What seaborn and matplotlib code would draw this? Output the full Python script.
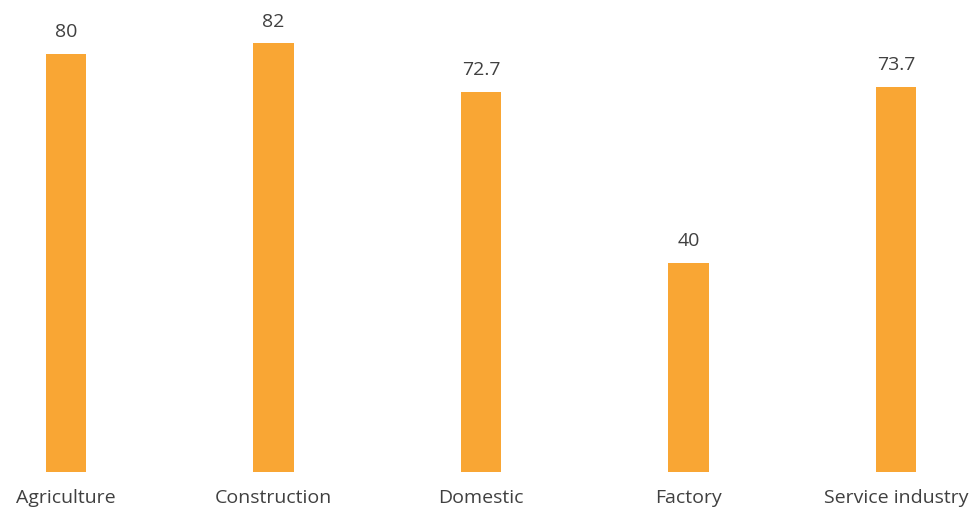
import matplotlib
matplotlib.use("Agg")
import matplotlib.pyplot as plt
import seaborn as sns
import pandas as pd

# Data
categories = ["Agriculture", "Construction", "Domestic", "Factory", "Service industry"]
values = [80, 82, 72.7, 40, 73.7]
value_labels = ["80", "82", "72.7", "40", "73.7"]

bar_color = "#F9A634"
text_color = "#404040"

sns.set_theme(style="white")
plt.rcParams["font.family"] = ["Open Sans", "DejaVu Sans"]

df = pd.DataFrame({"category": categories, "value": values})

fig = plt.figure(figsize=(9.72, 5.09), dpi=100)
ax = fig.add_axes([0.0, 37 / 509, 1.0, 472 / 509])

sns.barplot(data=df, x="category", y="value", color=bar_color,
            width=0.193, saturation=1, linewidth=0, ax=ax)

ax.bar_label(ax.containers[0], labels=value_labels, padding=9,
             fontsize=14, color=text_color)

ax.set_xlim(-66 / 207.5, (972 - 66) / 207.5)
ax.set_ylim(0, 90.3)
ax.set_xlabel("")
ax.set_ylabel("")
ax.set_yticks([])
ax.tick_params(axis="x", length=0, pad=12, labelsize=14, labelcolor=text_color)
for s in ax.spines.values():
    s.set_visible(False)

fig.savefig("out.png", dpi=100)
